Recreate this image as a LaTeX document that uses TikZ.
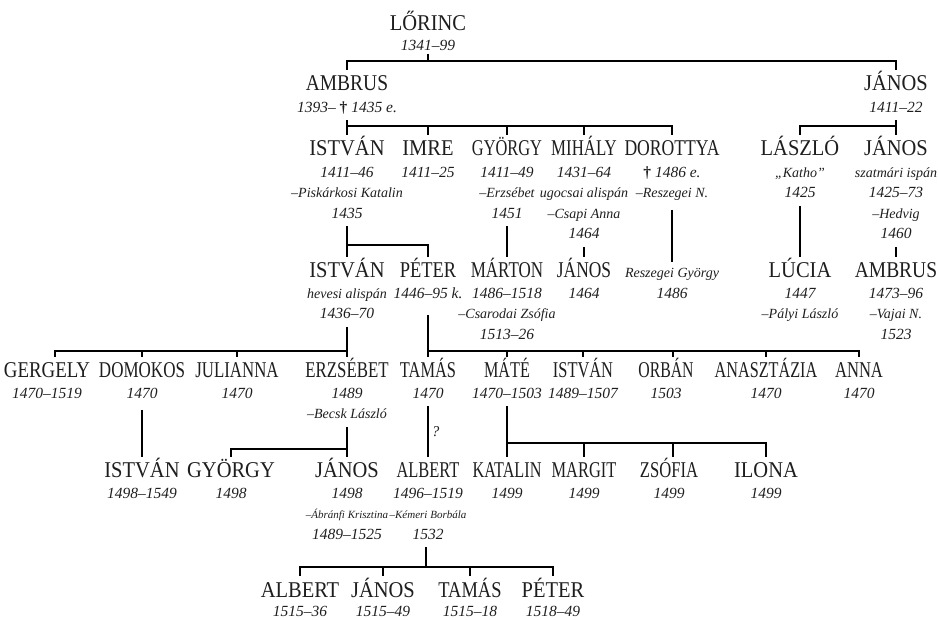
\documentclass[tikz,border=0pt]{standalone}
\usepackage{fontspec}
\setmainfont{Liberation Serif}
\usepackage{graphicx}
\definecolor{txt}{HTML}{1E1E1E}
\newcommand\sx[2]{\scalebox{#1}[1.1]{#2}}
\newcommand\tp{\rule{0pt}{12pt}}
\newcommand\bt{\rule[-8pt]{0pt}{8pt}}
\newcommand\dg{{\upshape\bfseries †}}
\newcommand\smf{\fontsize{11}{20.5}\selectfont}
\newcommand\txf{\fontsize{14}{20.5}\selectfont}
\begin{document}
\begin{tikzpicture}[x=1pt,y=-1pt,
  nm/.style={anchor=base, inner sep=0pt, text height=21pt, text depth=0pt, font=\fontsize{20.5}{20.5}\selectfont, text=txt},
  nmi/.style={nm, text height=16pt, font=\itshape\fontsize{14}{20.5}\selectfont},
  inf/.style={anchor=north, inner sep=0pt, align=center, font=\itshape\fontsize{15.5}{20.5}\selectfont, text=txt},
  qm/.style={inner sep=3pt, font=\itshape\fontsize{15}{15}\selectfont, text=txt},
  ln/.style={line width=1.8pt, draw=black},
]
\useasboundingbox (0,0) rectangle (938,620);
% bus coordinates
\coordinate (b0) at (0,61);
\coordinate (b1) at (0,126);
\coordinate (b2) at (0,245);
\coordinate (b3) at (0,351);
\coordinate (b4a) at (0,449);
\coordinate (b4b) at (0,443);
\coordinate (b5) at (0,567);

% Row 0
\node[nm] (lorinc) at (428,31) {\sx{1}{LŐRINC}};
\node[inf] (i-lorinc) at (428,38) {\tp 1341–99\bt};

% Row 1
\node[nm] (ambrus1) at (347,91) {\sx{0.95}{AMBRUS}};
\node[inf] (i-ambrus1) at (347,100) {\tp 1393– \dg\ 1435 e.\bt};
\node[nm] (janos1) at (896,91) {\sx{1}{JÁNOS}};
\node[inf] (i-janos1) at (896,100) {\tp 1411–22\bt};

% Row 2
\node[nm] (istvan2) at (347,156) {\sx{1}{ISTVÁN}};
\node[inf] (i-istvan2) at (347,165) {\tp 1411–46\\{\txf –Piskárkosi Katalin}\\1435\bt};
\node[nm] (imre) at (428,156) {\sx{1}{IMRE}};
\node[inf] (i-imre) at (428,165) {\tp 1411–25\bt};
\node[nm] (gyorgy2) at (507,156) {\sx{0.8}{GYÖRGY}};
\node[inf] (i-gyorgy2) at (507,165) {\tp 1411–49\\{\txf –Erzsébet}\\1451\bt};
\node[nm] (mihaly) at (584,156) {\sx{0.82}{MIHÁLY}};
\node[inf] (i-mihaly) at (584,165) {\tp 1431–64\\{\txf ugocsai alispán}\\{\txf –Csapi Anna}\\1464\bt};
\node[nm] (dorottya) at (672,156) {\sx{0.86}{DOROTTYA}};
\node[inf] (i-dorottya) at (672,165) {\tp\dg\ 1486 e.\\{\txf –Reszegei N.}\bt};
\node[nm] (laszlo) at (800,156) {\sx{1}{LÁSZLÓ}};
\node[inf] (i-laszlo) at (800,165) {\tp {\txf „Katho”}\\1425\bt};
\node[nm] (janos2) at (896,156) {\sx{1}{JÁNOS}};
\node[inf] (i-janos2) at (896,165) {\tp {\txf szatmári ispán}\\1425–73\\{\txf –Hedvig}\\1460\bt};

% Row 3
\node[nm] (istvan3) at (347,278) {\sx{1}{ISTVÁN}};
\node[inf] (i-istvan3) at (347,286) {\tp {\txf hevesi alispán}\\1436–70\bt};
\node[nm] (peter3) at (428,278) {\sx{0.9}{PÉTER}};
\node[inf] (i-peter3) at (428,286) {\tp 1446–95 k.\bt};
\node[nm] (marton) at (507,278) {\sx{0.83}{MÁRTON}};
\node[inf] (i-marton) at (507,286) {\tp 1486–1518\\{\txf –Csarodai Zsófia}\\1513–26\bt};
\node[nm] (janos3) at (584,278) {\sx{0.85}{JÁNOS}};
\node[inf] (i-janos3) at (584,286) {\tp 1464\bt};
\node[nmi] (reszegei) at (672,278) {Reszegei György};
\node[inf] (i-reszegei) at (672,286) {\tp 1486\bt};
\node[nm] (lucia) at (800,278) {\sx{1}{LÚCIA}};
\node[inf] (i-lucia) at (800,286) {\tp 1447\\{\txf –Pályi László}\bt};
\node[nm] (ambrus3) at (896,278) {\sx{0.95}{AMBRUS}};
\node[inf] (i-ambrus3) at (896,286) {\tp 1473–96\\{\txf –Vajai N.}\\1523\bt};

% Row 4
\node[nm] (gergely) at (47,378) {\sx{0.92}{GERGELY}};
\node[inf] (i-gergely) at (47,386) {\tp 1470–1519\bt};
\node[nm] (domokos) at (142,378) {\sx{0.83}{DOMOKOS}};
\node[inf] (i-domokos) at (142,386) {\tp 1470\bt};
\node[nm] (julianna) at (237,378) {\sx{0.82}{JULIANNA}};
\node[inf] (i-julianna) at (237,386) {\tp 1470\bt};
\node[nm] (erzsebet) at (347,378) {\sx{0.82}{ERZSÉBET}};
\node[inf] (i-erzsebet) at (347,386) {\tp 1489\\{\txf –Becsk László}\bt};
\node[nm] (tamas4) at (428,378) {\sx{0.8}{TAMÁS}};
\node[inf] (i-tamas4) at (428,386) {\tp 1470\bt};
\node[nm] (mate) at (507,378) {\sx{0.79}{MÁTÉ}};
\node[inf] (i-mate) at (507,386) {\tp 1470–1503\bt};
\node[nm] (istvan4) at (583,378) {\sx{0.8}{ISTVÁN}};
\node[inf] (i-istvan4) at (583,386) {\tp 1489–1507\bt};
\node[nm] (orban) at (666,378) {\sx{0.77}{ORBÁN}};
\node[inf] (i-orban) at (666,386) {\tp 1503\bt};
\node[nm] (anasztazia) at (766,378) {\sx{0.79}{ANASZTÁZIA}};
\node[inf] (i-anasztazia) at (766,386) {\tp 1470\bt};
\node[nm] (anna) at (859,378) {\sx{0.81}{ANNA}};
\node[inf] (i-anna) at (859,386) {\tp 1470\bt};

% Row 5
\node[nm] (istvan5) at (142,478) {\sx{1}{ISTVÁN}};
\node[inf] (i-istvan5) at (142,486) {\tp 1498–1549\bt};
\node[nm] (gyorgy5) at (231,478) {\sx{1}{GYÖRGY}};
\node[inf] (i-gyorgy5) at (231,486) {\tp 1498\bt};
\node[nm] (janos5) at (347,478) {\sx{1}{JÁNOS}};
\node[inf] (i-janos5) at (347,486) {\tp 1498\\{\smf –Ábránfi Krisztina}\\1489–1525\bt};
\node[nm] (albert5) at (428,478) {\sx{0.8}{ALBERT}};
\node[inf] (i-albert5) at (428,486) {\tp 1496–1519\\{\smf –Kémeri Borbála}\\1532\bt};
\node[nm] (katalin) at (507,478) {\sx{0.79}{KATALIN}};
\node[inf] (i-katalin) at (507,486) {\tp 1499\bt};
\node[nm] (margit) at (584,478) {\sx{0.8}{MARGIT}};
\node[inf] (i-margit) at (584,486) {\tp 1499\bt};
\node[nm] (zsofia) at (669,478) {\sx{0.81}{ZSÓFIA}};
\node[inf] (i-zsofia) at (669,486) {\tp 1499\bt};
\node[nm] (ilona) at (766,478) {\sx{1}{ILONA}};
\node[inf] (i-ilona) at (766,486) {\tp 1499\bt};

% Row 6
\node[nm] (albert6) at (300,597) {\sx{1}{ALBERT}};
\node[inf] (i-albert6) at (300,604) {\tp 1515–36\bt};
\node[nm] (janos6) at (383,597) {\sx{1}{JÁNOS}};
\node[inf] (i-janos6) at (383,604) {\tp 1515–49\bt};
\node[nm] (tamas6) at (470,597) {\sx{0.9}{TAMÁS}};
\node[inf] (i-tamas6) at (470,604) {\tp 1515–18\bt};
\node[nm] (peter6) at (553,597) {\sx{1}{PÉTER}};
\node[inf] (i-peter6) at (553,604) {\tp 1518–49\bt};

% ---- connectors ----
% Lőrinc
\draw[ln] ([yshift=4pt]i-lorinc.south) -- (i-lorinc.south |- b0);
\draw[ln] (ambrus1.north) |- (janos1.north |- b0) -- (janos1.north);
% Ambrus
\draw[ln] (i-ambrus1.south) -- (i-ambrus1.south |- b1);
\draw[ln] (istvan2.north) |- (dorottya.north |- b1) -- (dorottya.north);
\foreach \n in {imre,gyorgy2,mihaly} \draw[ln] (\n.north |- b1) -- (\n.north);
% János
\draw[ln] (i-janos1.south) -- (i-janos1.south |- b1);
\draw[ln] (laszlo.north) |- (janos2.north |- b1) -- (janos2.north);
% Row 2 -> Row 3
\draw[ln] (i-istvan2.south) -- (istvan3.north);
\draw[ln] (i-istvan2.south |- b2) -| (peter3.north);
\draw[ln] (i-gyorgy2.south) -- (marton.north);
\draw[ln] (i-mihaly.south) -- (janos3.north);
\draw[ln] ([yshift=-4pt]i-dorottya.south) -- (reszegei.north);
\draw[ln] (i-laszlo.south) -- (lucia.north);
\draw[ln] (i-janos2.south) -- (ambrus3.north);
% István (row 3) -> children
\draw[ln] (i-istvan3.south) -- (i-istvan3.south |- b3);
\draw[ln] ([xshift=8pt]gergely.north) |- (erzsebet.north |- b3) -- (erzsebet.north);
\foreach \n in {domokos,julianna} \draw[ln] (\n.north |- b3) -- (\n.north);
% Péter -> children
\draw[ln] ([yshift=-9pt]i-peter3.south) -- (tamas4.north);
\draw[ln] (tamas4.north |- b3) -| (anna.north);
\foreach \n in {mate,istvan4,anasztazia} \draw[ln] (\n.north |- b3) -- (\n.north);
\draw[ln] ([xshift=7pt]orban.north |- b3) -- ([xshift=7pt]orban.north);
% Row 4 -> Row 5
\draw[ln] ([yshift=-4pt]i-domokos.south) -- (istvan5.north);
\draw[ln] (i-erzsebet.south) -- (janos5.north);
\draw[ln] (gyorgy5.north) |- (janos5.north |- b4a);
\draw[ln] (i-tamas4.south) -- node[qm, right] (q) {?} (albert5.north);
\draw[ln] (i-mate.south) -- (katalin.north);
\draw[ln] (katalin.north |- b4b) -| (ilona.north);
\draw[ln] (margit.north |- b4b) -- (margit.north);
\draw[ln] ([xshift=4pt]zsofia.north |- b4b) -- ([xshift=4pt]zsofia.north);
% Albert -> children
\draw[ln] ([xshift=-2pt]i-albert5.south) -- ([xshift=-2pt]i-albert5.south |- b5);
\draw[ln] (albert6.north) |- (peter6.north |- b5) -- (peter6.north);
\foreach \n in {janos6,tamas6} \draw[ln] (\n.north |- b5) -- (\n.north);
\end{tikzpicture}
\end{document}
